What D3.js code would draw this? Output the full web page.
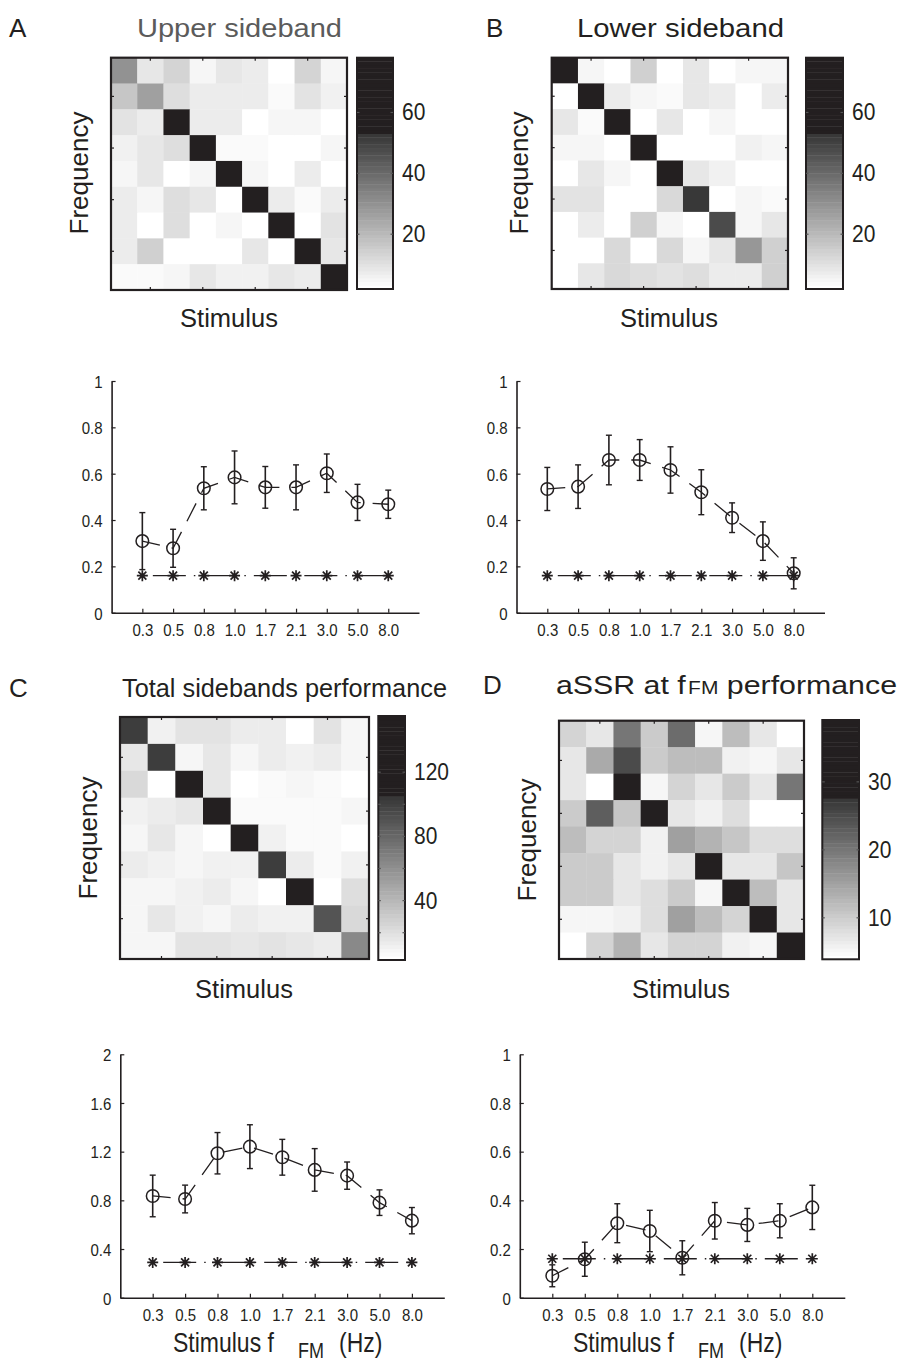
<!DOCTYPE html>
<html>
<head>
<meta charset="utf-8">
<script src="https://cdn.jsdelivr.net/npm/d3@7"></script>
<style>
  body { margin: 0; background: #fff; }
  svg { display: block; font-family: "Liberation Sans", Arial, Helvetica, sans-serif; }
</style>
</head>
<body>
<svg id="fig" width="901" height="1366"></svg>
<script>
// ---- data -------------------------------------------------------------
const fmLabels = ["0.3", "0.5", "0.8", "1.0", "1.7", "2.1", "3.0", "5.0", "8.0"];

// confusion matrices (rows = decoded frequency, columns = stimulus)
const upperMatrix = [
  [30, 8, 13, 5, 9, 7, 2, 13, 5],
  [17, 26, 11, 7, 7, 7, 4, 10, 6],
  [10, 7, 68, 7, 7, 3, 5, 5, 3],
  [6, 9, 11, 60, 4, 4, 3, 3, 5],
  [5, 9, 2, 5, 70, 5, 3, 7, 3],
  [7, 5, 11, 8, 2, 58, 7, 4, 7],
  [7, 3, 11, 2, 5, 2, 72, 2, 10],
  [7, 14, 2, 3, 3, 9, 3, 70, 9],
  [4, 4, 5, 9, 6, 6, 9, 7, 66]
];
const lowerMatrix = [
  [70, 5, 2, 14, 2, 8, 3, 5, 5],
  [2, 72, 7, 5, 4, 9, 7, 2, 7],
  [9, 4, 68, 2, 8, 2, 5, 2, 3],
  [5, 5, 3, 70, 2, 2, 2, 6, 5],
  [3, 8, 5, 3, 66, 8, 6, 2, 3],
  [10, 10, 3, 3, 12, 53, 3, 5, 4],
  [3, 7, 2, 14, 5, 2, 48, 5, 9],
  [3, 2, 12, 3, 12, 5, 8, 29, 15],
  [3, 9, 12, 11, 10, 11, 7, 7, 14]
];
const totalMatrix = [
  [102, 12, 18, 18, 14, 14, 4, 18, 8],
  [16, 101, 10, 17, 10, 14, 11, 14, 10],
  [22, 4, 145, 16, 4, 6, 9, 7, 4],
  [12, 13, 15, 140, 7, 7, 7, 7, 8],
  [10, 16, 10, 5, 142, 12, 7, 6, 4],
  [14, 12, 9, 11, 11, 102, 13, 7, 11],
  [8, 8, 11, 14, 9, 4, 150, 5, 21],
  [10, 16, 11, 9, 14, 12, 11, 89, 23],
  [8, 10, 19, 18, 15, 18, 15, 13, 64]
];
const assrMatrix = [
  [9, 7, 20, 10, 21, 5, 12, 7, 4],
  [7, 14, 25, 10, 12, 12, 6, 5, 7],
  [7, 4, 33, 5, 9, 7, 10, 7, 20],
  [10, 23, 11, 32, 7, 6, 8, 4, 4],
  [12, 9, 9, 6, 15, 13, 11, 8, 8],
  [10, 10, 7, 6, 7, 34, 7, 7, 11],
  [10, 10, 7, 8, 10, 5, 35, 12, 7],
  [5, 5, 6, 8, 15, 12, 9, 36, 7],
  [4, 9, 13, 7, 9, 9, 6, 5, 38]
];

// colour bar ranges and ticks
const upperRange = [2, 78];
const lowerRange = [2, 78];
const totalRange = [3, 155];
const assrRange = [3.9, 39.1];
const sidebandBarTicks = [20, 40, 60];
const totalBarTicks = [20, 40, 60, 80, 100, 120];
const totalBarLabels = [40, 80, 120];
const assrBarTicks = [10, 20, 30];

// decoding performance (mean +/- error) and chance level
const upperMean = [0.309, 0.278, 0.537, 0.584, 0.541, 0.541, 0.602, 0.476, 0.468];
const upperErr = [0.123, 0.082, 0.093, 0.114, 0.090, 0.097, 0.083, 0.078, 0.061];
const upperChance = [0.16, 0.16, 0.16, 0.16, 0.16, 0.16, 0.16, 0.16, 0.16];

const lowerMean = [0.534, 0.544, 0.659, 0.659, 0.616, 0.520, 0.410, 0.309, 0.170];
const lowerErr = [0.093, 0.094, 0.107, 0.088, 0.100, 0.097, 0.064, 0.083, 0.067];
const lowerChance = [0.16, 0.16, 0.16, 0.16, 0.16, 0.16, 0.16, 0.16, 0.16];

const totalMean = [0.836, 0.811, 1.187, 1.241, 1.154, 1.050, 1.003, 0.781, 0.633];
const totalErr = [0.171, 0.114, 0.170, 0.180, 0.147, 0.175, 0.112, 0.105, 0.108];
const totalChance = [0.29, 0.29, 0.29, 0.29, 0.29, 0.29, 0.29, 0.29, 0.29];

const assrMean = [0.090, 0.158, 0.306, 0.274, 0.164, 0.316, 0.299, 0.316, 0.371];
const assrErr = [0.045, 0.070, 0.080, 0.085, 0.070, 0.075, 0.068, 0.070, 0.091];
const assrChance = [0.16, 0.16, 0.16, 0.16, 0.16, 0.16, 0.16, 0.16, 0.16];

const rateTicks = [0, 0.2, 0.4, 0.6, 0.8, 1];
const totalTicks = [0, 0.4, 0.8, 1.2, 1.6, 2];

// ---- drawing ----------------------------------------------------------
const svg = d3.select("#fig");
const INK = "#231f20";
const LEVELS = 64;
const SAT = 0.67; // colormap saturates to black above this fraction

function levelColor(idx) {
  const t = idx / (LEVELS - 1);
  if (t >= SAT) return INK;
  const g = Math.round(255 - 200 * t / SAT);
  return `rgb(${g},${g},${g})`;
}
function valueColor(v, range) {
  const t = Math.max(0, Math.min(1, (v - range[0]) / (range[1] - range[0])));
  return levelColor(Math.min(LEVELS - 1, Math.floor(t * LEVELS)));
}

function label(parent, x, y, str, o = {}) {
  const g = parent.append("g")
    .attr("transform", `translate(${x},${y}) rotate(${o.rotate || 0}) scale(1,${o.sy || 1})`);
  const t = g.append("text")
    .attr("text-anchor", o.anchor || "start")
    .attr("font-size", o.size || 20)
    .attr("fill", o.fill || INK)
    .text(str);
  if (o.width) t.attr("textLength", o.width).attr("lengthAdjust", "spacingAndGlyphs");
  return t;
}

function heatmap(cfg) {
  const g = svg.append("g");
  const n = cfg.matrix.length;
  const xs = d3.scaleBand().domain(d3.range(n)).range([cfg.box[0], cfg.box[1]]);
  const ys = d3.scaleBand().domain(d3.range(n)).range([cfg.box[2], cfg.box[3]]);
  const cells = [];
  cfg.matrix.forEach((row, r) => row.forEach((v, c) => cells.push({ r, c, v })));
  g.selectAll("rect.cell").data(cells).join("rect")
    .attr("x", d => xs(d.c)).attr("y", d => ys(d.r))
    .attr("width", xs.bandwidth() + 0.4).attr("height", ys.bandwidth() + 0.4)
    .attr("fill", d => valueColor(d.v, cfg.range));
  g.append("rect")
    .attr("x", cfg.box[0]).attr("y", cfg.box[2])
    .attr("width", cfg.box[1] - cfg.box[0]).attr("height", cfg.box[3] - cfg.box[2])
    .attr("fill", "none").attr("stroke", INK).attr("stroke-width", 2.2);
  // unlabelled ticks at every second row/column
  const tk = [1, 3, 5, 7];
  const tl = 3;
  tk.forEach(i => {
    const cx = xs(i) + xs.bandwidth() / 2, cy = ys(i) + ys.bandwidth() / 2;
    [[cx, cfg.box[2], cx, cfg.box[2] + tl], [cx, cfg.box[3], cx, cfg.box[3] - tl],
     [cfg.box[0], cy, cfg.box[0] + tl, cy], [cfg.box[1], cy, cfg.box[1] - tl, cy]]
      .forEach(s => g.append("line").attr("x1", s[0]).attr("y1", s[1]).attr("x2", s[2]).attr("y2", s[3])
        .attr("stroke", INK).attr("stroke-width", 1.2));
  });

  // colour bar
  const b = cfg.bar;
  const yb = d3.scaleLinear().domain(cfg.range).range([b[3], b[2]]);
  const steps = d3.range(LEVELS).map(i => ({
    i,
    lo: cfg.range[0] + (cfg.range[1] - cfg.range[0]) * i / LEVELS,
    hi: cfg.range[0] + (cfg.range[1] - cfg.range[0]) * (i + 1) / LEVELS
  }));
  g.selectAll("rect.step").data(steps).join("rect")
    .attr("x", b[0]).attr("width", b[1] - b[0])
    .attr("y", d => yb(d.hi)).attr("height", d => yb(d.lo) - yb(d.hi) + 0.4)
    .attr("fill", d => levelColor(d.i));
  g.append("rect")
    .attr("x", b[0]).attr("y", b[2]).attr("width", b[1] - b[0]).attr("height", b[3] - b[2])
    .attr("fill", "none").attr("stroke", INK).attr("stroke-width", 2);
  cfg.barTicks.forEach(v => {
    g.append("line").attr("x1", b[0]).attr("x2", b[0] + 2.5).attr("y1", yb(v)).attr("y2", yb(v))
      .attr("stroke", "#555").attr("stroke-width", 1.2);
    g.append("line").attr("x1", b[1]).attr("x2", b[1] - 2.5).attr("y1", yb(v)).attr("y2", yb(v))
      .attr("stroke", "#555").attr("stroke-width", 1.2);
  });
  cfg.barLabels.forEach(v => {
    label(g, b[1] + 9, yb(v) + 8, String(v), { size: 21, sy: 1.1 });
  });

  // axis titles
  label(g, cfg.ylabel[0], cfg.ylabel[1], "Frequency", { size: 26, rotate: -90, anchor: "middle" });
  label(g, cfg.xlabel[0], cfg.xlabel[1], "Stimulus", { size: 25.5, anchor: "middle" });
}

function perfPlot(cfg) {
  const g = svg.append("g");
  const x = d3.scaleLinear().domain([0, 10]).range([cfg.x0, cfg.x1]);
  const y = d3.scaleLinear().domain([0, cfg.yMax]).range([cfg.yBottom, cfg.yTop]);
  const fmt = d => Number.isInteger(d) ? String(d) : d.toFixed(1);
  const SY = 1.13;

  const ya = g.append("g").attr("transform", `translate(${cfg.x0},0)`)
    .call(d3.axisLeft(y).tickValues(cfg.yTicks).tickFormat(fmt).tickSize(-4).tickSizeOuter(0).tickPadding(9));
  const xa = g.append("g").attr("transform", `translate(0,${cfg.yBottom})`)
    .call(d3.axisBottom(x).tickValues(d3.range(1, 10)).tickFormat(d => fmLabels[d - 1])
      .tickSize(-4).tickSizeOuter(0).tickPadding(12));
  [ya, xa].forEach(a => {
    a.attr("font-size", 15).attr("font-family", "Liberation Sans, Arial, sans-serif");
    a.select(".domain").attr("stroke", INK).attr("stroke-width", 1.6);
    a.selectAll(".tick line").attr("stroke", INK).attr("stroke-width", 1.2);
    a.selectAll(".tick text").attr("fill", INK);
  });
  // slightly tall tick numerals
  ya.selectAll(".tick text").attr("x", null).attr("dy", null)
    .attr("transform", `translate(-9,${5.6 * SY}) scale(1,${SY})`);
  xa.selectAll(".tick text").attr("y", null).attr("dy", null)
    .attr("transform", `translate(0,23.5) scale(1,${SY})`);

  const line = d3.line().x((d, i) => x(i + 1)).y(d => y(d));
  g.append("path").attr("d", line(cfg.chance)).attr("fill", "none")
    .attr("stroke", INK).attr("stroke-width", 1.3)
    .attr("stroke-dasharray", "33,8,1.5,8").attr("stroke-dashoffset", 40);
  g.append("path").attr("d", line(cfg.mean)).attr("fill", "none")
    .attr("stroke", INK).attr("stroke-width", 1.3)
    .attr("stroke-dasharray", "20,12").attr("stroke-dashoffset", 2);

  // error bars
  cfg.mean.forEach((m, i) => {
    const cx = x(i + 1), top = y(m + cfg.err[i]), bot = y(m - cfg.err[i]);
    g.append("line").attr("x1", cx).attr("x2", cx).attr("y1", top).attr("y2", bot)
      .attr("stroke", INK).attr("stroke-width", 1.6);
    [top, bot].forEach(yy => g.append("line").attr("x1", cx - 3).attr("x2", cx + 3)
      .attr("y1", yy).attr("y2", yy).attr("stroke", INK).attr("stroke-width", 1.4));
  });
  // chance markers
  g.selectAll("path.star").data(cfg.chance).join("path")
    .attr("transform", (d, i) => `translate(${x(i + 1)},${y(d)})`)
    .attr("d", "M-5.5,0H5.5M0,-5.5V5.5M-4,-4L4,4M-4,4L4,-4")
    .attr("stroke", INK).attr("stroke-width", 1.7).attr("fill", "none");
  // mean markers
  g.selectAll("circle.m").data(cfg.mean).join("circle")
    .attr("cx", (d, i) => x(i + 1)).attr("cy", d => y(d)).attr("r", 6.3)
    .attr("fill", "none").attr("stroke", INK).attr("stroke-width", 1.5);

  if (cfg.xTitle) {
    const t = label(g, cfg.xTitle[0], cfg.xTitle[1], "Stimulus f", { size: 23, sy: 1.2 });
    t.append("tspan").attr("font-size", 18).attr("x", 125).attr("dy", 5).text("FM");
    t.append("tspan").attr("x", 166).attr("dy", -5).text("(Hz)");
  }
}

// panel letters and titles
label(svg, 9, 37, "A", { size: 26 });
label(svg, 486, 37, "B", { size: 26 });
label(svg, 9, 697, "C", { size: 26 });
label(svg, 483, 694, "D", { size: 26 });
label(svg, 137, 37, "Upper sideband", { size: 26.5, fill: "#5b5b5b", width: 205 });
label(svg, 577, 37, "Lower sideband", { size: 26.5, width: 207 });
label(svg, 122, 697, "Total sidebands performance", { size: 25.5, width: 325 });
const dt = label(svg, 556, 694, "aSSR at f", { size: 26, width: 341 });
dt.append("tspan").attr("font-size", 18).attr("dx", 2).text("FM");
dt.append("tspan").text("  performance");

heatmap({ matrix: upperMatrix, range: upperRange, box: [111, 347, 57.7, 290], bar: [357, 393, 57.7, 289],
  barTicks: sidebandBarTicks, barLabels: sidebandBarTicks, ylabel: [88, 173], xlabel: [229, 327] });
heatmap({ matrix: lowerMatrix, range: lowerRange, box: [551.7, 788, 57.7, 289], bar: [806, 843, 57.7, 289],
  barTicks: sidebandBarTicks, barLabels: sidebandBarTicks, ylabel: [528, 173], xlabel: [669, 327] });
heatmap({ matrix: totalMatrix, range: totalRange, box: [120, 369, 717, 959], bar: [378.3, 405, 716, 960],
  barTicks: totalBarTicks, barLabels: totalBarLabels, ylabel: [97, 838], xlabel: [244, 998] });
heatmap({ matrix: assrMatrix, range: assrRange, box: [559, 804, 720.7, 959], bar: [822.3, 859, 720, 959.3],
  barTicks: assrBarTicks, barLabels: assrBarTicks, ylabel: [536, 840], xlabel: [681, 998] });

perfPlot({ x0: 111.6, x1: 419, yBottom: 612.7, yTop: 381, yMax: 1, yTicks: rateTicks,
  mean: upperMean, err: upperErr, chance: upperChance });
perfPlot({ x0: 516.5, x1: 824.5, yBottom: 612.7, yTop: 381, yMax: 1, yTicks: rateTicks,
  mean: lowerMean, err: lowerErr, chance: lowerChance });
perfPlot({ x0: 120.3, x1: 444.3, yBottom: 1297.7, yTop: 1054.3, yMax: 2, yTicks: totalTicks,
  mean: totalMean, err: totalErr, chance: totalChance, xTitle: [173, 1352] });
perfPlot({ x0: 519.8, x1: 844.8, yBottom: 1297.7, yTop: 1054.3, yMax: 1, yTicks: rateTicks,
  mean: assrMean, err: assrErr, chance: assrChance, xTitle: [573, 1352] });
</script>
</body>
</html>
